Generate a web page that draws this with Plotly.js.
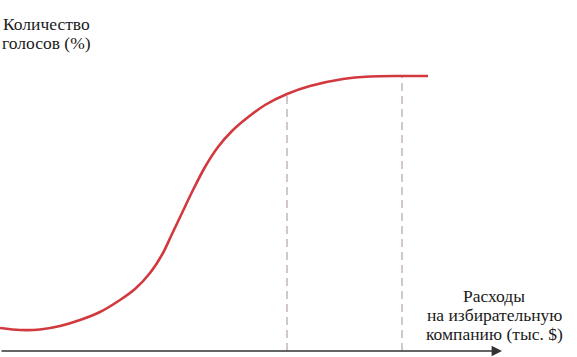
<!DOCTYPE html>
<html><head><meta charset="utf-8">
<script src="https://cdn.plot.ly/plotly-3.0.1.min.js"></script>
<style>html,body{margin:0;padding:0;background:#fff}#c{width:577px;height:357px}</style>
</head><body><div id="c"></div>
<script>
// Spending (arbitrary units) and share of votes (arbitrary units)
const spending = [0, 20, 40, 60, 80, 100, 120, 135, 150, 163, 172, 182, 193, 205, 218, 232, 247, 265, 287, 310, 343, 370, 400, 428];
const votes    = [23, 21, 21.5, 25, 31, 39, 51, 62, 78, 98, 117, 138, 161, 184, 204, 220, 233, 246, 257, 265, 272, 274.5, 275, 275];
// Marked spending levels (dashed guides)
const markSpending = [287, 402];
const markVotes = [257, 275];
const yLabelLines = ["Количество", "голосов (%)"];
const xLabelLines = ["Расходы", "на избирательную", "компанию (тыс. $)"];

const FONT = {family: 'Liberation Serif, serif', size: 17.5, color: '#1a1a1a'};
const traces = [];
markSpending.forEach((xv, i) => {
  traces.push({x: [xv, xv], y: [0, markVotes[i]], mode: 'lines', hoverinfo: 'skip',
    line: {color: '#b3a3aa', width: 1.2, dash: '8px,5px'}});
});
traces.push({x: spending, y: votes, mode: 'lines', hoverinfo: 'skip',
  line: {color: '#d2393f', width: 2.6, shape: 'spline', smoothing: 0.8}});

const annotations = [
  {x: 502, y: 0, ax: 0, ay: 0, axref: 'x', ayref: 'y', xref: 'x', yref: 'y',
   showarrow: true, arrowhead: 2, arrowsize: 1.6, arrowwidth: 1.3, arrowcolor: '#333', text: ''}
];
const yLabelY = [24, 43];
yLabelLines.forEach((t, i) => annotations.push({x: 46, y: 351 - yLabelY[i], xref: 'x', yref: 'y',
  xanchor: 'center', yanchor: 'middle', showarrow: false, text: t, font: FONT}));
const xLabelY = [296, 315, 334];
xLabelLines.forEach((t, i) => annotations.push({x: 494, y: 351 - xLabelY[i], xref: 'x', yref: 'y',
  xanchor: 'center', yanchor: 'middle', showarrow: false, text: t, font: FONT}));

const layout = {
  width: 577, height: 357, margin: {l: 0, r: 0, t: 0, b: 0},
  paper_bgcolor: '#fff', plot_bgcolor: '#fff', showlegend: false,
  xaxis: {range: [0, 577], visible: false, fixedrange: true},
  yaxis: {range: [-6, 351], visible: false, fixedrange: true},
  annotations: annotations
};
Plotly.newPlot('c', traces, layout, {displayModeBar: false, staticPlot: true});
</script></body></html>
